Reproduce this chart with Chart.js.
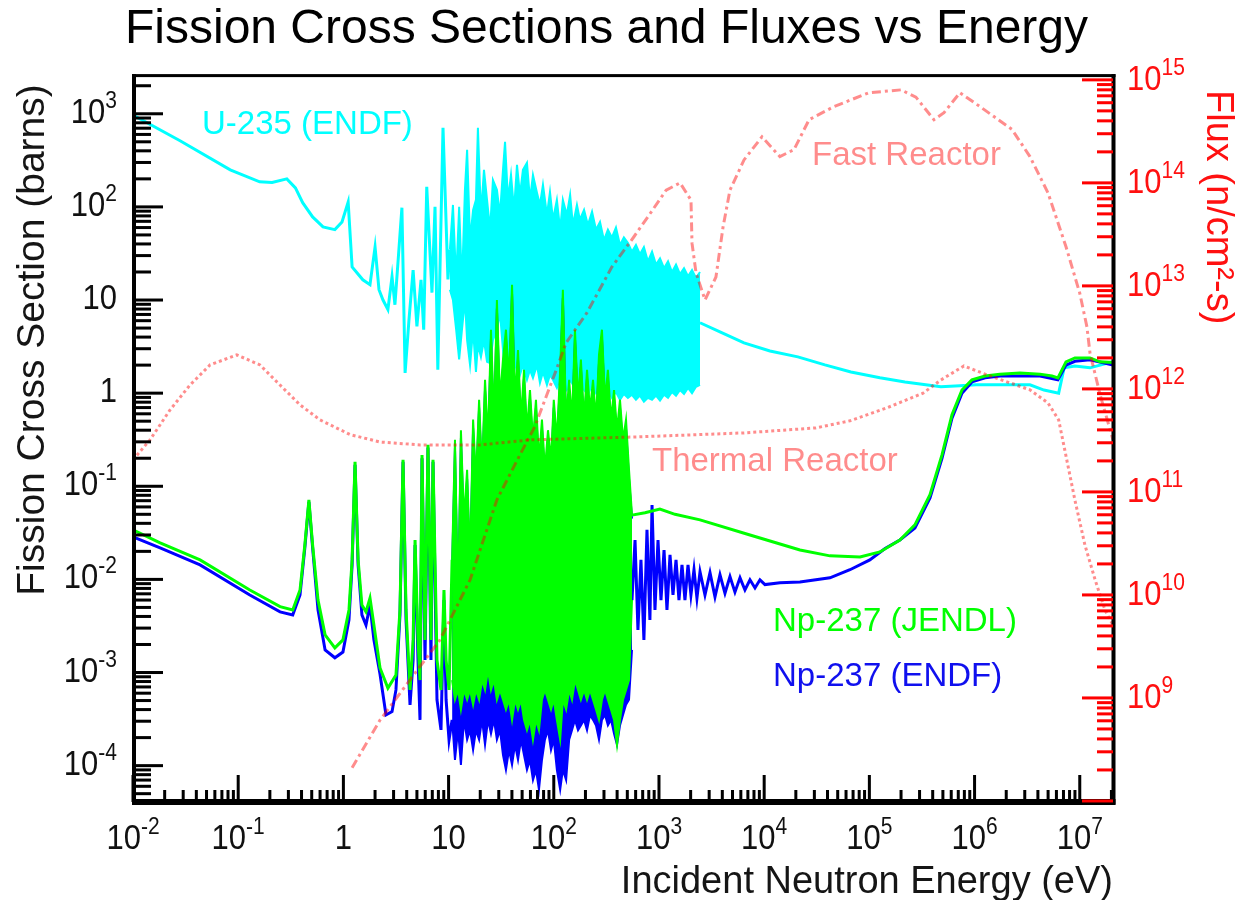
<!DOCTYPE html>
<html>
<head>
<meta charset="utf-8">
<title>Fission Cross Sections and Fluxes vs Energy</title>
<script src="https://cdn.jsdelivr.net/npm/chart.js@4.4.1/dist/chart.umd.min.js"></script>
<style>
  html, body { margin: 0; padding: 0; background: #ffffff; }
  canvas { display: block; }
</style>
</head>
<body>
<canvas id="chart" width="1241" height="900"></canvas>
<script>
// ---------------- data (energy in eV, cross section in barns, flux in n/cm^2-s) ----------------

// U-235 (ENDF) fission cross section: thermal + first resolved resonances
const u235LowE  = [0.01, 0.028, 0.084, 0.16, 0.21, 0.29, 0.35, 0.41, 0.51, 0.64, 0.83, 0.97, 1.11, 1.21, 1.53, 1.79, 2.0, 2.18, 2.38, 2.65, 2.9, 3.09, 3.6, 3.86, 4.2, 4.6, 5.0, 5.47, 5.8, 6.2, 6.95, 7.43, 7.9, 8.85, 9.86, 10.3];
const u235LowXs = [970, 513, 250, 186, 183, 200, 160, 111, 78, 61, 57, 69, 113, 22.7, 16.5, 14.6, 37, 12.9, 10, 7.9, 17.8, 8.9, 98, 1.65, 6.1, 21, 5.2, 16.5, 4.8, 164, 12, 100, 1.78, 707, 16.6, 35];

// U-235 dense resonance region: upper and lower envelope
const u235BandE = [10.3, 11.0, 11.8, 12.6, 13.4, 14.3, 15.0, 16.0, 17.1, 18.2, 19.0, 20.3, 21.7, 23.2, 24.8, 26.4, 28.8, 30.8, 32.9, 34.4, 36.7, 39.2, 41.9, 44.7, 47.7, 50.9, 55.6, 59.4, 63.4, 69.2, 73.9, 78.9, 86.1, 92.0, 98.2, 107, 115, 122, 133, 143, 152, 166, 177, 194, 211, 231, 252, 275, 300, 327, 357, 390, 426, 464, 507, 553, 604, 659, 719, 785, 859, 937, 1023, 1117, 1219, 1330, 1452, 1585, 1730, 1888, 2061, 2249, 2455];
const u235BandTop = [35, 105, 16.5, 100, 14.6, 153, 410, 44, 93, 119, 707, 82, 250, 119, 57, 195, 153, 82, 250, 500, 119, 221, 93, 283, 135, 250, 298, 119, 221, 142, 105, 173, 82, 145, 73, 119, 57, 119, 82, 135, 64, 105, 73, 93, 64, 89, 57, 69, 44, 57, 47, 60, 39, 47, 41, 33, 39, 31, 37, 26, 33, 24, 28, 22, 26, 20, 24, 19, 22, 18, 21, 17.3, 20];
const u235BandBot = [12.9, 10, 4.8, 2.3, 4.8, 10, 3.7, 2.0, 4.8, 1.69, 3.3, 2.45, 3.7, 2.17, 2.1, 3.7, 4.8, 7.3, 2.9, 1.46, 2.0, 2.6, 1.69, 2.4, 1.57, 2.0, 1.39, 1.78, 1.46, 2.0, 1.29, 1.69, 1.23, 1.57, 1.39, 1.14, 1.46, 1.29, 1.08, 1.39, 1.23, 1.03, 1.29, 1.08, 0.96, 1.23, 1.0, 1.17, 0.94, 1.08, 0.89, 1.03, 0.85, 0.98, 0.89, 0.96, 0.85, 0.94, 0.81, 0.89, 0.85, 0.94, 0.83, 0.96, 0.89, 1.03, 0.94, 1.08, 0.98, 1.14, 1.0, 1.17, 1.23];

// U-235 unresolved / fast region
const u235HighE  = [2455, 3800, 6430, 11350, 20900, 37800, 66800, 126000, 218000, 478000, 726000, 1.03e6, 3.36e6, 4.57e6, 6.3e6, 7.1e6, 9.0e6, 1.25e7, 2.07e7];
const u235HighXs = [5.7, 4.55, 3.47, 2.84, 2.45, 2.01, 1.69, 1.46, 1.32, 1.17, 1.2, 1.23, 1.23, 1.08, 1.0, 1.87, 1.96, 1.87, 2.17];

// Np-237 (JENDL)
const npJLowE  = [0.01, 0.0181, 0.0434, 0.129, 0.25, 0.33, 0.387, 0.43, 0.47, 0.51, 0.574, 0.67, 0.83, 0.99, 1.13, 1.21, 1.29, 1.38, 1.5, 1.64, 1.79, 1.95, 2.23, 2.65, 3.16, 3.45, 3.69, 3.94, 4.3, 4.6, 4.8, 5.12, 5.35, 5.59, 5.97, 6.37, 6.8, 7.11, 7.76, 8.47, 9.04, 9.47, 10.1, 10.8];
const npJLowXs = [0.034, 0.0247, 0.0162, 0.0077, 0.0051, 0.0047, 0.0077, 0.0234, 0.0715, 0.0234, 0.006, 0.00254, 0.00184, 0.00224, 0.0047, 0.0162, 0.183, 0.0162, 0.0053, 0.00448, 0.0063, 0.00324, 0.00112, 0.00068, 0.00094, 0.0047, 0.192, 0.0047, 0.00065, 0.00224, 0.0265, 0.00224, 0.00083, 0.217, 0.00224, 0.279, 0.00224, 0.192, 0.00136, 0.00065, 0.0077, 0.00136, 0.00065, 0.0162];

// Np-237 resonance region energy grid (shared by both evaluations)
const npBandE = [10.8, 11.5, 12.3, 13.1, 14.0, 15.0, 16.0, 17.1, 18.2, 19.5, 20.8, 22.2, 23.7, 25.3, 27.0, 28.8, 30.8, 32.9, 35.1, 37.5, 40.1, 42.8, 45.7, 48.8, 52.1, 55.6, 59.4, 63.4, 67.7, 72.3, 77.2, 82.4, 88.1, 94.1, 100, 107, 115, 122, 131, 140, 149, 159, 170, 181, 194, 207, 221, 236, 252, 269, 287, 307, 327, 350, 374, 399, 426, 455, 486, 519, 554];
const npJBandTop = [0.0162, 0.315, 0.006, 0.40, 0.0436, 0.15, 0.0162, 0.52, 0.117, 0.85, 0.15, 1.39, 0.315, 4.8, 0.52, 10, 0.85, 2.3, 4.8, 1.39, 14.6, 0.85, 2.9, 0.52, 1.78, 0.40, 1.08, 0.315, 0.85, 0.19, 0.52, 0.15, 0.40, 0.19, 0.85, 0.315, 1.78, 12.9, 0.52, 1.39, 0.52, 4.8, 0.85, 2.3, 0.52, 1.78, 0.66, 1.39, 0.52, 2.6, 4.8, 0.85, 1.78, 0.52, 1.08, 0.40, 0.85, 0.315, 0.52, 0.15, 0.049];
const npJBandBot = [0.00083, 0.00051, 0.00065, 0.0004, 0.00065, 0.00051, 0.00065, 0.00045, 0.00065, 0.00051, 0.00083, 0.00065, 0.00107, 0.00065, 0.00083, 0.00051, 0.00065, 0.00051, 0.0004, 0.00051, 0.00031, 0.00051, 0.0004, 0.00051, 0.00031, 0.00024, 0.00031, 0.00019, 0.00031, 0.00024, 0.00051, 0.00065, 0.00051, 0.0004, 0.00051, 0.00031, 0.00019, 0.00051, 0.0004, 0.00065, 0.00051, 0.00083, 0.00065, 0.00051, 0.00065, 0.00051, 0.00065, 0.00051, 0.0004, 0.00031, 0.00051, 0.00065, 0.00051, 0.0004, 0.00031, 0.000167, 0.00031, 0.00051, 0.00065, 0.00083, 0.006];
const npJHighE  = [554, 736, 1020, 1420, 2455, 7330, 21900, 42200, 81500, 126000, 195000, 271000, 377000, 490000, 610000, 759000, 944000, 1.26e6, 1.74e6, 2.7e6, 4.19e6, 5.44e6, 6.2e6, 7.4e6, 9.0e6, 1.25e7, 1.56e7, 2.07e7];
const npJHighXs = [0.049, 0.052, 0.057, 0.05, 0.0436, 0.030, 0.0207, 0.0179, 0.0174, 0.0197, 0.0265, 0.0385, 0.081, 0.217, 0.585, 1.08, 1.39, 1.53, 1.6, 1.65, 1.6, 1.53, 1.46, 2.17, 2.39, 2.39, 2.17, 2.13];

// Np-237 (ENDF)
const npELowE  = [0.01, 0.0181, 0.0434, 0.129, 0.25, 0.33, 0.387, 0.43, 0.47, 0.51, 0.574, 0.67, 0.83, 0.99, 1.13, 1.21, 1.29, 1.38, 1.5, 1.64, 1.79, 1.95, 2.23, 2.54, 2.9, 3.16, 3.45, 3.69, 3.94, 4.3, 4.6, 4.8, 5.12, 5.35, 5.59, 5.97, 6.37, 6.8, 7.11, 7.76, 8.47, 9.04, 9.47, 10.1, 10.8];
const npELowXs = [0.0286, 0.0218, 0.0143, 0.0068, 0.00448, 0.00416, 0.0068, 0.0218, 0.068, 0.0218, 0.0047, 0.00175, 0.00144, 0.00166, 0.00367, 0.0143, 0.17, 0.0143, 0.00416, 0.00324, 0.0053, 0.00224, 0.00096, 0.00035, 0.00038, 0.00065, 0.00416, 0.183, 0.00367, 0.00045, 0.00136, 0.0234, 0.00136, 0.00031, 0.2, 0.00136, 0.26, 0.00136, 0.183, 0.000508, 0.000242, 0.006, 0.000508, 0.000189, 0.00031];
const npEBandTop = [0.013, 0.26, 0.005, 0.33, 0.036, 0.12, 0.013, 0.42, 0.095, 0.7, 0.12, 1.1, 0.26, 3.9, 0.42, 8.1, 0.7, 1.9, 3.9, 1.1, 11.8, 0.7, 2.3, 0.42, 1.45, 0.33, 0.88, 0.26, 0.7, 0.15, 0.42, 0.12, 0.33, 0.15, 0.7, 0.26, 1.45, 10.5, 0.42, 1.1, 0.42, 3.9, 0.7, 1.9, 0.42, 1.45, 0.54, 1.1, 0.42, 2.1, 3.9, 0.7, 1.45, 0.42, 0.88, 0.33, 0.7, 0.26, 0.42, 0.12, 0.045];
const npEBandBot = [0.00031, 0.000115, 0.00024, 0.000102, 0.00031, 0.00019, 0.00024, 0.000147, 0.00024, 0.00019, 0.00031, 0.000167, 0.00031, 0.00022, 0.00031, 0.00019, 0.00024, 0.00013, 0.00009, 0.000147, 0.000102, 0.000167, 0.000115, 0.00019, 0.00013, 0.00009, 0.000115, 0.00007, 0.00009, 0.000055, 0.000115, 0.00019, 0.00024, 0.000147, 0.00019, 0.00009, 0.000055, 0.00009, 0.00007, 0.00019, 0.00024, 0.00031, 0.00024, 0.00027, 0.00031, 0.00024, 0.00035, 0.00031, 0.00027, 0.00019, 0.00031, 0.00035, 0.00027, 0.00031, 0.00022, 0.000167, 0.00027, 0.00035, 0.00045, 0.00051, 0.00175];
const npEHighE  = [554, 592, 631, 674, 719, 769, 820, 859, 916, 979, 1045, 1117, 1191, 1273, 1359, 1452, 1549, 1655, 1766, 1888, 2013, 2152, 2296, 2455, 2737, 3055, 3407, 3800, 4240, 4730, 5275, 5890, 6566, 7330, 8180, 9120, 10180, 14130, 21880, 42200, 65400, 101000, 141000, 195000, 271000, 377000, 490000, 610000, 759000, 944000, 1.26e6, 1.74e6, 4.19e6, 6.2e6, 7.4e6, 9.0e6, 1.25e7, 2.07e7];
const npEHighXs = [0.006, 0.0265, 0.00287, 0.0162, 0.00224, 0.034, 0.00367, 0.063, 0.0047, 0.0265, 0.006, 0.0207, 0.0047, 0.0183, 0.0068, 0.0162, 0.006, 0.0143, 0.006, 0.0143, 0.0068, 0.0127, 0.0063, 0.0121, 0.0068, 0.0118, 0.0065, 0.0112, 0.0071, 0.0107, 0.0073, 0.0104, 0.0077, 0.0099, 0.0081, 0.0099, 0.0088, 0.0092, 0.0094, 0.0104, 0.0127, 0.0162, 0.0215, 0.0265, 0.0357, 0.075, 0.2, 0.54, 1.0, 1.32, 1.46, 1.53, 1.53, 1.39, 2.0, 2.2, 2.28, 2.0];

// Reactor neutron flux spectra
const thermalE    = [0.01, 0.0145, 0.0225, 0.0348, 0.054, 0.097, 0.161, 0.25, 0.387, 0.6, 1.16, 2.23, 5.35, 19.9, 59.4, 618, 6430, 31000, 65400, 147000, 324000, 478000, 792000, 1.31e6, 3.36e6, 4.99e6, 6.3e6, 7.2e6, 9.0e6, 1.12e7, 1.4e7, 1.74e7, 2.07e7];
const thermalFlux = [2.05e11, 3.2e11, 6.25e11, 1.09e12, 1.71e12, 2.14e12, 1.71e12, 1.09e12, 7e11, 5e11, 3.6e11, 3.05e11, 2.86e11, 2.86e11, 3.2e11, 3.42e11, 3.74e11, 4.18e11, 4.9e11, 6.55e11, 9.1e11, 1.22e12, 1.67e12, 1.37e12, 9.8e11, 7.3e11, 5e11, 2.56e11, 8.3e10, 3.05e10, 1.4e10, 7.1e9, 5.1e9];
const fastE    = [1.21, 2.23, 4.3, 8.28, 16, 28.8, 47.7, 66, 103, 131, 207, 357, 578, 786, 1170, 1585, 2015, 2060, 2250, 2740, 3480, 4060, 4730, 6430, 9530, 14100, 19200, 26700, 46000, 99000, 200000, 277000, 411000, 512000, 726000, 1.125e6, 1.53e6, 2.27e6, 3.36e6, 4.99e6, 7.4e6, 1e7, 1.17e7, 1.25e7, 1.56e7, 2.07e7];
const fastFlux = [2.1e8, 6.1e8, 1.5e9, 3.66e9, 1.4e10, 8.4e10, 2.29e11, 4.3e11, 1.43e12, 2.8e12, 5.5e12, 1.53e13, 3e13, 4.7e13, 8.5e13, 1e14, 6.8e13, 2.6e13, 1.34e13, 7.3e12, 1.22e13, 3.7e13, 8.5e13, 1.67e14, 2.8e14, 1.8e14, 2.1e14, 4.1e14, 5.5e14, 7.5e14, 8e14, 6.8e14, 4.1e14, 4.8e14, 7.5e14, 5.5e14, 4.4e14, 3.3e14, 1.8e14, 8e13, 2.4e13, 8.5e12, 4e12, 2.24e12, 8.8e11, 3.2e11];

// Axis ranges and decade labels (exponents of 10)
const energyRange = [0.01, 2.07e7];
const xsRange     = [4.07e-5, 2570];
const fluxRange   = [9.77e7, 1.1e15];
const energyTickExps = [-2, -1, 0, 1, 2, 3, 4, 5, 6, 7];
const xsTickExps     = [-4, -3, -2, -1, 0, 1, 2, 3];
const fluxTickExps   = [9, 10, 11, 12, 13, 14, 15];

// Text
const chartTitle = 'Fission Cross Sections and Fluxes vs Energy';
const xTitle  = 'Incident Neutron Energy (eV)';
const yTitle  = 'Fission Cross Section (barns)';
const y2Title = 'Flux (n/cm\u00B2-s)';

// ---------------- chart ----------------
const FONT = '"Liberation Sans", Arial, Helvetica, sans-serif';
const CYAN = '#00ffff', GREEN = '#00ff00', BLUE = '#0000ff';
const PINK = 'rgba(255,0,0,0.45)';

const pts = (xs, ys) => xs.map((x, i) => ({ x, y: ys[i] }));
const line = (data, color, width, extra) => Object.assign({
  data, borderColor: color, backgroundColor: color, borderWidth: width,
  pointRadius: 0, pointHoverRadius: 0, tension: 0, fill: false, clip: 0, yAxisID: 'y'
}, extra || {});

const datasets = [
  line(pts(thermalE, thermalFlux), PINK, 3, { yAxisID: 'y2', borderDash: [3, 3], order: 0 }),
  line(pts(fastE, fastFlux), PINK, 3, { yAxisID: 'y2', borderDash: [9, 4, 3, 4], order: 0 }),

  line(pts(npJLowE, npJLowXs), GREEN, 3, { order: 1 }),
  line(pts(npBandE, npJBandTop), GREEN, 2, { order: 1 }),
  line(pts(npBandE, npJBandBot), GREEN, 2, { order: 1, fill: '-1' }),
  line(pts(npJHighE, npJHighXs), GREEN, 3, { order: 1 }),

  line(pts(npELowE, npELowXs), BLUE, 3, { order: 2 }),
  line(pts(npBandE, npEBandTop), BLUE, 2, { order: 2 }),
  line(pts(npBandE, npEBandBot), BLUE, 2, { order: 2, fill: '-1' }),
  line(pts(npEHighE, npEHighXs), BLUE, 3, { order: 2 }),

  line(pts(u235LowE, u235LowXs), CYAN, 3, { order: 3 }),
  line(pts(u235BandE, u235BandTop), CYAN, 2, { order: 3 }),
  line(pts(u235BandE, u235BandBot), CYAN, 2, { order: 3, fill: '-1' }),
  line(pts(u235HighE, u235HighXs), CYAN, 3, { order: 3 })
];

// "10" with a raised exponent, ROOT style
function drawPower(ctx, exp, x, baseY, align, color) {
  const big = 31, small = 21, stretch = 1.15, rise = 15;
  const base = exp === 0 ? '1' : '10';
  const sup = (exp === 0 || exp === 1) ? '' : String(exp);
  ctx.font = big + 'px ' + FONT;
  const wb = ctx.measureText(base).width;
  ctx.font = small + 'px ' + FONT;
  const ws = sup ? ctx.measureText(sup).width : 0;
  const total = wb + ws;
  let x0 = x;
  if (align === 'right') x0 = x - total;
  else if (align === 'center') x0 = x - total / 2;
  ctx.fillStyle = color;
  ctx.textAlign = 'left';
  ctx.textBaseline = 'alphabetic';
  ctx.save();
  ctx.translate(x0, baseY);
  ctx.scale(1, stretch);
  ctx.font = big + 'px ' + FONT;
  ctx.fillText(base, 0, 0);
  ctx.restore();
  if (sup) {
    ctx.save();
    ctx.translate(x0 + wb, baseY - rise);
    ctx.scale(1, stretch);
    ctx.font = small + 'px ' + FONT;
    ctx.fillText(sup, 0, 0);
    ctx.restore();
  }
}

function decadeValues(scale, eFrom, eTo) {
  const out = [];
  for (let e = eFrom; e <= eTo; e++) {
    for (let m = 1; m <= 9; m++) {
      const v = m * Math.pow(10, e);
      if (v >= scale.min * 0.9999 && v <= scale.max * 1.0001) out.push({ v, major: m === 1 });
    }
  }
  return out;
}

const rootFrame = {
  id: 'rootFrame',
  afterDraw(chart) {
    const { ctx, chartArea: a, scales } = chart;
    const sx = scales.x, sy = scales.y, sy2 = scales.y2;
    ctx.save();

    // frame
    ctx.fillStyle = '#000';
    ctx.fillRect(a.left - 1, a.top - 1.5, a.right - a.left + 3.5, 3);
    ctx.fillRect(a.left - 1, a.top - 1.5, 4, a.bottom - a.top + 4);
    ctx.fillRect(a.right - 1.5, a.top - 1.5, 4, a.bottom - a.top + 4);
    ctx.fillRect(a.left - 1, a.bottom - 3, a.right - a.left + 3.5, 6);

    // left axis ticks (inward)
    for (const t of decadeValues(sy, -5, 3)) {
      const py = sy.getPixelForValue(t.v);
      ctx.fillRect(a.left, py - 1.5, t.major ? 30 : 18, 3);
    }
    // bottom axis ticks (inward)
    for (const t of decadeValues(sx, -2, 7)) {
      const px = sx.getPixelForValue(t.v);
      const len = t.major ? 27 : 12;
      ctx.fillRect(px - 1.5, a.bottom - len, 3, len);
    }
    // right axis ticks (inward, red)
    ctx.fillStyle = '#ff0000';
    for (const t of decadeValues(sy2, 8, 15)) {
      const py = sy2.getPixelForValue(t.v);
      const len = t.major ? 31 : 16;
      ctx.fillRect(a.right - len, py - 1.5, len, 3);
    }

    // tick labels
    for (const e of xsTickExps) {
      const py = sy.getPixelForValue(Math.pow(10, e));
      drawPower(ctx, e, 117, py + 9, 'right', '#111');
    }
    for (const e of energyTickExps) {
      const px = sx.getPixelForValue(Math.pow(10, e));
      drawPower(ctx, e, px, 849, 'center', '#111');
    }
    for (const e of fluxTickExps) {
      const py = sy2.getPixelForValue(Math.pow(10, e));
      drawPower(ctx, e, 1127, py + 10, 'left', '#ff1010');
    }

    // axis titles
    ctx.textBaseline = 'alphabetic';
    ctx.fillStyle = '#151515';
    ctx.font = '39px ' + FONT;
    ctx.save();
    ctx.translate(44, 340);
    ctx.rotate(-Math.PI / 2);
    ctx.textAlign = 'center';
    ctx.fillText(yTitle, 0, 0);
    ctx.restore();

    ctx.font = '38px ' + FONT;
    ctx.textAlign = 'right';
    ctx.fillText(xTitle, a.right, 893);

    ctx.save();
    ctx.fillStyle = '#ff1010';
    ctx.translate(1207, 90);
    ctx.rotate(Math.PI / 2);
    ctx.textAlign = 'left';
    ctx.fillText(y2Title, 0, 0);
    ctx.restore();

    // curve labels
    ctx.font = '33px ' + FONT;
    ctx.textAlign = 'left';
    ctx.fillStyle = CYAN;
    ctx.fillText('U-235 (ENDF)', 202, 134);
    ctx.fillStyle = PINK;
    ctx.fillText('Fast Reactor', 812, 165);
    ctx.fillText('Thermal Reactor', 652, 471);
    ctx.fillStyle = GREEN;
    ctx.fillText('Np-237 (JENDL)', 773, 631);
    ctx.fillStyle = '#1010ee';
    ctx.fillText('Np-237 (ENDF)', 773, 686);

    ctx.restore();
  }
};

new Chart(document.getElementById('chart'), {
  type: 'line',
  data: { datasets },
  options: {
    responsive: false,
    devicePixelRatio: 1,
    animation: false,
    events: [],
    layout: { padding: { left: 0, right: 28, top: 0, bottom: 0 } },
    plugins: {
      legend: { display: false },
      tooltip: { enabled: false },
      title: {
        display: true,
        text: chartTitle,
        color: '#000',
        font: { family: FONT, size: 48, weight: 'normal', lineHeight: 1.2 },
        padding: { top: 1, bottom: 17 }
      }
    },
    scales: {
      x: {
        type: 'logarithmic', position: 'bottom',
        min: energyRange[0], max: energyRange[1],
        grid: { display: false }, border: { display: false },
        ticks: { display: false },
        afterFit: s => { s.height = 98; }
      },
      y: {
        type: 'logarithmic', position: 'left',
        min: xsRange[0], max: xsRange[1],
        grid: { display: false }, border: { display: false },
        ticks: { display: false },
        afterFit: s => { s.width = 133; }
      },
      y2: {
        type: 'logarithmic', position: 'right',
        min: fluxRange[0], max: fluxRange[1],
        grid: { display: false }, border: { display: false },
        ticks: { display: false },
        afterFit: s => { s.width = 100; }
      }
    }
  },
  plugins: [rootFrame]
});
</script>
</body>
</html>
